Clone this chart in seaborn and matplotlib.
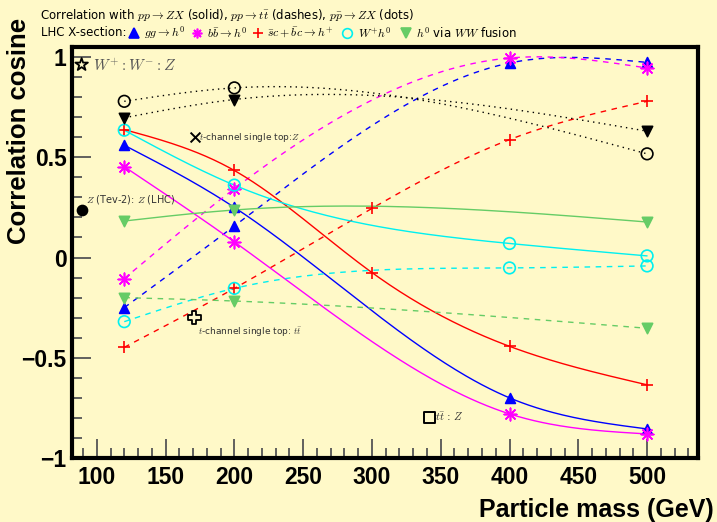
import numpy as np
import matplotlib
matplotlib.use("Agg")
import matplotlib.pyplot as plt
import seaborn as sns
from matplotlib.lines import Line2D

# ---------------- data ----------------
mass_4 = [120, 200, 400, 500]
mass_5 = [120, 200, 300, 400, 500]
mass_3 = [120, 200, 500]

gg_solid = [0.56, 0.25, -0.70, -0.855]
gg_dash = [-0.25, 0.157, 0.97, 0.973]
bb_solid = [0.453, 0.078, -0.78, -0.88]
bb_dash = [-0.105, 0.343, 0.995, 0.945]
sc_solid = [0.638, 0.434, -0.075, -0.443, -0.635]
sc_dash = [-0.448, -0.154, 0.245, 0.588, 0.779]
wh_solid = [0.635, 0.361, 0.07, 0.008]
wh_dash = [-0.32, -0.154, -0.052, -0.042]
ww_solid = [0.182, 0.237, 0.177]
ww_dash = [-0.20, -0.217, -0.353]
wh_dots = [0.779, 0.846, 0.517]
ww_dots = [0.697, 0.788, 0.63]

# reference points
ref_x = [89, 89.5, 171.5, 170.8, 342]
ref_y = [0.962, 0.235, 0.60, -0.30, -0.796]

xticks = [100, 150, 200, 250, 300, 350, 400, 450, 500]
yticks = [-1, -0.5, 0, 0.5, 1]
yticklabels = ["\u22121", "\u22120.5", "0", "0.5", "1"]

BG = "#fff9c8"
BLUE, MAG, RED, CYAN, GREEN = "#0000ff", "#ff00ff", "#ff0000", "#00f0f0", "#66cc66"

sns.set_theme(style="white")
plt.rcParams["font.family"] = ["DejaVu Sans"]
plt.rcParams["mathtext.fontset"] = "cm"
for key in ["text.color", "axes.labelcolor", "xtick.labelcolor", "ytick.labelcolor"]:
    plt.rcParams[key] = "black"


def spline(x, y, n=200):
    """natural cubic spline used only to draw the smooth connecting curve"""
    x = np.asarray(x, float); y = np.asarray(y, float)
    k = len(x)
    h = np.diff(x)
    A = np.zeros((k, k)); b = np.zeros(k)
    A[0, 0] = A[-1, -1] = 1
    for i in range(1, k - 1):
        A[i, i - 1] = h[i - 1]; A[i, i] = 2 * (h[i - 1] + h[i]); A[i, i + 1] = h[i]
        b[i] = 6 * ((y[i + 1] - y[i]) / h[i] - (y[i] - y[i - 1]) / h[i - 1])
    M = np.linalg.solve(A, b)
    xs = np.linspace(x[0], x[-1], n)
    idx = np.clip(np.searchsorted(x, xs) - 1, 0, k - 2)
    x0, x1 = x[idx], x[idx + 1]; hh = x1 - x0
    ys = (M[idx] * (x1 - xs) ** 3 / (6 * hh) + M[idx + 1] * (xs - x0) ** 3 / (6 * hh)
          + (y[idx] / hh - M[idx] * hh / 6) * (x1 - xs)
          + (y[idx + 1] / hh - M[idx + 1] * hh / 6) * (xs - x0))
    return xs, ys


fig = plt.figure(figsize=(7.17, 5.22), dpi=100, facecolor=BG)
ax = fig.add_axes([0.1004, 0.1226, 0.8731, 0.7874])
ax.set_facecolor(BG)

series = [
    (mass_4, gg_solid, BLUE, "-", "^", dict(s=50)),
    (mass_4, gg_dash, BLUE, (0, (4, 4)), "^", dict(s=50)),
    (mass_4, bb_solid, MAG, "-", (8, 2, 0), dict(s=80)),
    (mass_4, bb_dash, MAG, (0, (4, 4)), (8, 2, 0), dict(s=80)),
    (mass_5, sc_solid, RED, "-", "+", dict(s=85)),
    (mass_5, sc_dash, RED, (0, (4, 4)), "+", dict(s=85)),
    (mass_4, wh_solid, CYAN, "-", "o", dict(s=70, facecolor="none")),
    (mass_4, wh_dash, CYAN, (0, (4, 4)), "o", dict(s=70, facecolor="none")),
    (mass_3, ww_solid, GREEN, "-", "v", dict(s=55)),
    (mass_3, ww_dash, GREEN, (0, (4, 4)), "v", dict(s=55)),
    (mass_3, wh_dots, "black", (0, (1, 3)), "o", dict(s=70, facecolor="none")),
    (mass_3, ww_dots, "black", (0, (1, 3)), "v", dict(s=55)),
]

for xs, ys, col, ls, mk, kw in series:
    sx, sy = spline(xs, ys)
    ax.plot(sx, sy, color=col, lw=1.0, ls=ls, zorder=2)
    fc = kw.pop("facecolor", col)
    sns.scatterplot(x=xs, y=ys, ax=ax, marker=mk, s=kw["s"], color=col,
                    facecolor=fc, edgecolor=col, linewidth=1.2, zorder=3, legend=False)

# reference markers
ax.scatter(ref_x[0], ref_y[0], marker="*", s=90, facecolor="none", edgecolor="black", lw=1.3, zorder=4)
ax.scatter(ref_x[1], ref_y[1], marker="o", s=55, color="black", zorder=4)
ax.scatter(ref_x[2], ref_y[2], marker="x", s=50, color="black", lw=1.4, zorder=4)
ax.scatter(ref_x[3], ref_y[3], marker="P", s=90, facecolor="none", edgecolor="black", lw=1.3, zorder=4)
ax.scatter(ref_x[4], ref_y[4], marker="s", s=65, facecolor="none", edgecolor="black", lw=1.4, zorder=4)

tcol = "#333333"
ax.text(ref_x[0] + 8, ref_y[0] - 0.005, r"$W^{+} : W^{-} : Z$", fontsize=11, color="#555555", va="center")
ax.text(ref_x[1] + 2.5, ref_y[1] + 0.055, r"$Z$ (Tev-2): $Z$ (LHC)", fontsize=7, color=tcol, va="center")
ax.text(ref_x[2] + 2.5, ref_y[2], r"$t$-channel single top:$Z$", fontsize=6.5, color=tcol, va="center")
ax.text(ref_x[3] + 3, ref_y[3] - 0.075, r"$t$-channel single top: $t\bar{t}$", fontsize=6.5, color=tcol, va="center")
ax.text(ref_x[4] + 4, ref_y[4], r"$t\bar{t}$ : $Z$", fontsize=8, color=tcol, va="center")

# axes styling
ax.set_xlim(82, 537)
ax.set_ylim(-1, 1.05)
ax.set_xticks(xticks)
ax.set_yticks(yticks)
ax.set_yticklabels(yticklabels)
ax.set_xticks(np.arange(90, 531, 10), minor=True)
ax.set_yticks(np.arange(-0.9, 1.0, 0.1), minor=True)
ax.tick_params(axis="both", which="major", direction="in", length=14, width=1.3,
               color="#555555", labelcolor="black", labelsize=16.5, pad=4, top=False, right=False,
               left=True, bottom=True)
ax.tick_params(axis="x", which="major", pad=6)
ax.tick_params(axis="both", which="minor", direction="in", length=7, width=1.3,
               color="#555555", top=False, right=False, left=True, bottom=True)
for lab in ax.get_xticklabels() + ax.get_yticklabels():
    lab.set_fontweight("bold")
    lab.set_fontfamily("Liberation Sans")
for sp in ax.spines.values():
    sp.set_linewidth(3)
    sp.set_color("black")

fig.text(19 / 717, 1 - 131 / 522, "Correlation cosine", rotation=90, ha="center", va="center",
         fontsize=18.5, fontweight="bold", family="Liberation Sans", color="black")
fig.text(714 / 717, 1 - 510 / 522, "Particle mass (GeV)", ha="right", va="center",
         fontsize=18, fontweight="bold", family="Liberation Sans", color="black")

# header
def fx(px):
    return px / 717

def fy(py):
    return 1 - py / 522

hs = 8.5
fig.text(fx(40), fy(15), r"Correlation with $pp \rightarrow ZX$ (solid), $pp \rightarrow t\bar{t}$ (dashes), "
         r"$p\bar{p} \rightarrow ZX$ (dots)", fontsize=hs, va="center", color="black")
fig.text(fx(41), fy(33), "LHC X-section:", fontsize=hs, va="center", color="black")
items = [(134, "^", BLUE, BLUE, 144, r"$gg \rightarrow h^0$"),
         (197, (8, 2, 0), MAG, MAG, 207, r"$b\bar{b} \rightarrow h^0$"),
         (258, "+", RED, RED, 267, r"$\bar{s}c + \bar{b}c \rightarrow h^{+}$"),
         (347, "o", CYAN, "none", 358, r"$W^{+}h^0$"),
         (406, "v", GREEN, GREEN, 416, r"$h^0$ via $WW$ fusion")]
for mx, mk, ec, fc, tx, txt in items:
    fig.add_artist(Line2D([fx(mx)], [fy(33)], marker=mk, markersize=7, color=ec,
                          markerfacecolor=fc, markeredgecolor=ec, mew=1.2,
                          transform=fig.transFigure))
    fig.text(fx(tx), fy(33), txt, fontsize=hs, va="center", color="black")

fig.savefig("out.png", dpi=100, facecolor=BG)
